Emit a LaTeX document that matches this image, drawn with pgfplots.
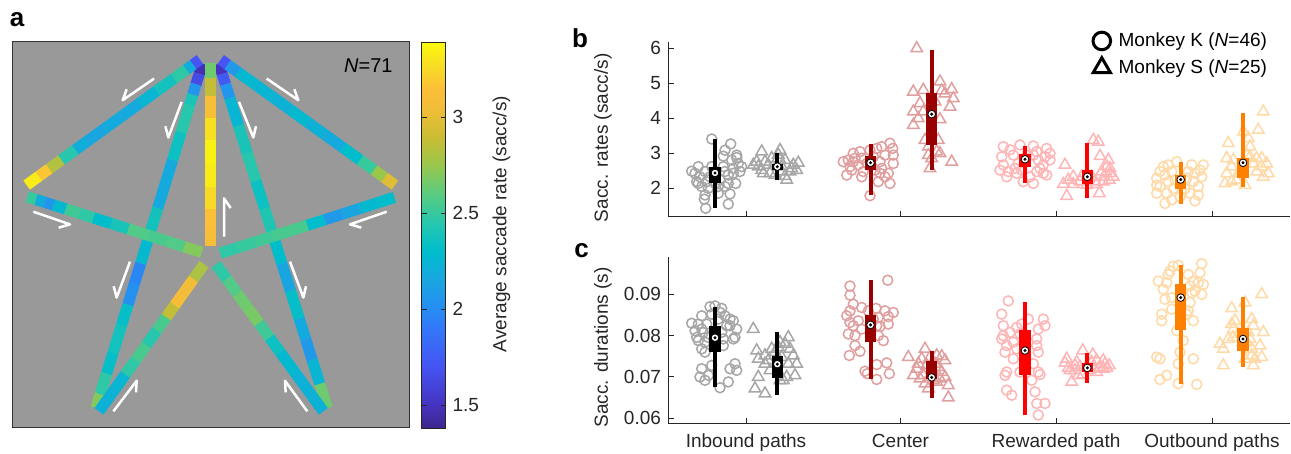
\documentclass[border=0pt]{standalone}
\usepackage{pgfplots}
\pgfplotsset{compat=1.18}
\usepackage{fontspec}
\setmainfont{Liberation Sans}

\definecolor{axgray}{rgb}{0.15,0.15,0.15}
\definecolor{bggray}{rgb}{0.6,0.6,0.6}
\definecolor{inpt}{rgb}{0.65,0.65,0.65}
\definecolor{cebox}{rgb}{0.6,0,0}
\definecolor{cept}{rgb}{0.88,0.62,0.62}
\definecolor{rebox}{rgb}{1,0,0}
\definecolor{rept}{rgb}{1,0.71,0.71}
\definecolor{oubox}{rgb}{1,0.5,0}
\definecolor{oupt}{rgb}{1,0.85,0.65}

\newcommand{\fs}{\fontsize{9.5}{11.4}\selectfont}

\pgfplotsset{
  every axis/.append style={
    /pgf/number format/assume math mode=true,
    tick label style={font=\fs, text=axgray},
    label style={font=\fs, text=axgray},
    clip marker paths=true,
  },
  kpt/.style={only marks, mark=o, mark size=2.5pt, line width=0.75pt, forget plot},
  spt/.style={only marks, mark=triangle, mark size=3.3pt, line width=0.75pt, forget plot},
  strip/.style={mesh, line width=5.6pt, point meta=explicit, forget plot},
  harp/.style={white, line width=1.25pt, line join=round, forget plot},
}

% x, whisker low, whisker high, box low, box high, median, colour
\newcommand{\grp}[7]{%
  \addplot[#7, line width=2pt, forget plot] coordinates {(#1,#2) (#1,#3)};
  \addplot[#7, line width=5.7pt, forget plot] coordinates {(#1,#4) (#1,#5)};
  \addplot[only marks, mark=*, mark size=1.9pt, mark options={fill=white, draw=black, line width=0.4pt}, forget plot] coordinates {(#1,#6)};
  \addplot[only marks, mark=*, mark size=0.55pt, black, forget plot] coordinates {(#1,#6)};
}

\begin{document}
\begin{tikzpicture}
\path[use as bounding box] (0,0) rectangle (645.5pt,227pt);

% ---------------- panel a ----------------
\begin{axis}[
  at={(6pt,13pt)}, anchor=south west, scale only axis,
  width=198.5pt, height=193pt,
  xmin=36, xmax=1227, ymin=125, ymax=1285, y dir=reverse,
  xtick=\empty, ytick=\empty,
  axis background/.style={fill=bggray},
  axis line style={draw=black!80, line width=0.5pt},
  colormap={parula}{rgb(138)=(0.24,0.15,0.55) rgb(150)=(0.27,0.2,0.75) rgb(170)=(0.27,0.33,0.95)
    rgb(190)=(0.2,0.47,0.98) rgb(200)=(0.15,0.55,0.95) rgb(215)=(0.1,0.65,0.88)
    rgb(230)=(0.0,0.74,0.8) rgb(245)=(0.15,0.78,0.68) rgb(260)=(0.35,0.8,0.5)
    rgb(275)=(0.6,0.78,0.3) rgb(290)=(0.8,0.74,0.2) rgb(305)=(0.95,0.74,0.22)
    rgb(315)=(0.99,0.75,0.22) rgb(325)=(0.97,0.85,0.15) rgb(339)=(0.98,0.98,0.05)},
  point meta min=1.38, point meta max=3.39,
  colorbar,
  colorbar shift/.style={xshift=6pt},
  colorbar style={
    width=12pt,
    ytick={1.5,2,2.5,3},
    yticklabel pos=right,
    tick align=inside, major tick length=2.5pt,
    tick style={draw=axgray},
    axis line style={draw=axgray},
    ylabel={Average saccade rate (sacc/s)},
    ylabel style={xshift=5.5pt},
  },
]
% long diagonals
\addplot[strip] coordinates {(607,190) [1.45] (597.4,221) [1.5] (587.9,252.1) [1.8] (578.3,283.2) [2.3]
  (568.7,314.2) [2.5] (543.2,397) [2.4] (517.7,479.8) [2.3] (492.2,562.6) [2.05] (473,624.7) [2.3]
  (447.5,707.5) [2.45] (422,790.3) [2.1] (402.8,852.4) [1.85] (383.7,914.5) [2.2] (364.6,976.6) [2.45]
  (339,1059.4) [2.3] (319.9,1121.5) [2.35] (300.8,1183.6) [2.6] (288,1225) [2.8]};
\addplot[strip] coordinates {(657,190) [1.45] (666.8,221) [1.55] (676.5,252.1) [1.9] (689.5,293.5) [2.2]
  (715.5,376.3) [2.3] (741.5,459.1) [2.5] (767.5,541.9) [2.4] (793.5,624.7) [2.3] (819.5,707.5) [2.55]
  (845.5,790.3) [2.05] (871.5,873.1) [2.25] (897.5,955.9) [2.4] (917,1018) [1.95] (936.5,1080.1) [2.2]
  (959.3,1152.6) [2.3] (982,1225) [3.0]};
% top edges
\addplot[strip] coordinates {(600,178) [1.5] (579.2,193.1) [1.9] (558.4,208.2) [2.5] (522,234.6) [2.45]
  (470,272.3) [2.3] (418,310) [2.2] (366,347.7) [2.15] (314,385.4) [2.2] (262,423.1) [2.1]
  (225.6,449.4) [2.3] (184,479.6) [2.6] (147.6,506) [3.05] (116.4,528.6) [3.3] (80,555) [3.35]};
\addplot[strip] coordinates {(662,178) [1.5] (682.9,193.1) [1.9] (714.3,215.7) [2.25] (766.6,253.4) [2.3]
  (818.9,291.1) [2.2] (871.2,328.8) [2.25] (923.5,366.5) [2.3] (975.8,404.2) [2.15] (1028.1,441.9) [2.2]
  (1080.4,479.6) [2.4] (1122.2,509.8) [2.6] (1153.6,532.4) [2.9] (1185,555) [3.05]};
% centre
\addplot[strip] coordinates {(632,188) [2.55] (632,232) [2.75] (632,287) [3.0] (632,353) [3.2]
  (632,419) [3.35] (632,490.5) [3.35] (632,562) [3.3] (632,628) [3.2] (632,683) [3.1] (632,738) [3.1]};
% lower side paths
\addplot[strip] coordinates {(82,590) [2.6] (108.2,598.4) [2.4] (134.3,606.7) [2.0] (160.5,615.1) [2.1]
  (197.1,626.7) [2.45] (238.9,640.1) [2.6] (280.7,653.5) [2.35] (333,670.2) [2.25] (385.3,686.9) [2.55]
  (448.1,706.9) [2.6] (500.4,723.6) [2.5] (552.7,740.3) [2.65] (605,757) [2.75]};
\addplot[strip] coordinates {(1183,592) [2.3] (1130.7,608.8) [2.3] (1078.4,625.6) [2.25] (1026.1,642.4) [2.05]
  (973.8,659.2) [2.1] (921.5,676) [2.5] (869.2,692.8) [2.6] (816.9,709.6) [2.5] (764.6,726.4) [2.55]
  (712.3,743.2) [2.45] (660,760) [2.5]};
\addplot[strip] coordinates {(612,793) [2.6] (580.5,837.2) [3.0] (549,881.4) [3.1] (523.8,916.8) [3.05]
  (498.6,952.1) [2.7] (470.3,991.9) [2.4] (438.8,1036.1) [2.5] (407.3,1080.3) [2.6] (375.8,1124.5) [2.35]
  (344.3,1168.7) [2.15] (297,1235) [2.3]};
\addplot[strip] coordinates {(648,793) [2.4] (680.2,837.2) [2.55] (712.4,881.4) [2.6] (744.6,925.6) [2.7]
  (776.8,969.8) [2.65] (809,1014) [2.4] (841.2,1058.2) [2.3] (889.5,1124.5) [2.25] (937.8,1190.8) [2.2]
  (970,1235) [2.25]};
% direction arrows
\addplot[harp] coordinates {(380,267) (368,300) (462,235)};
\addplot[harp] coordinates {(883,267) (895,300) (800,235)};
\addplot[harp] coordinates {(496,378) (505,412) (545,305)};
\addplot[harp] coordinates {(768,378) (760,412) (717,305)};
\addplot[harp] coordinates {(692,624) (672,595) (672,710)};
\addplot[harp] coordinates {(176,683) (210,673) (100,635)};
\addplot[harp] coordinates {(1084,683) (1050,673) (1160,635)};
\addplot[harp] coordinates {(341,859) (350,893) (390,785)};
\addplot[harp] coordinates {(918,859) (910,893) (870,785)};
\addplot[harp] coordinates {(408,1178) (410,1143) (340,1235)};
\addplot[harp] coordinates {(857,1178) (855,1143) (922,1235)};
\node[font=\fontsize{10}{12}\selectfont, text=black] at (axis cs:1105,195) {\textit{N}=71};
\end{axis}

% ---------------- panel b ----------------
\begin{axis}[
  at={(334pt,118.65pt)}, anchor=south west, scale only axis,
  width=311pt, height=87.5pt,
  xmin=668, xmax=1290, ymin=1.19, ymax=6.19,
  clip=false,
  axis lines=left, axis line style={-, draw=axgray, line width=0.5pt},
  xtick={746,900.5,1056,1212}, xticklabels={},
  ytick={2,3,4,5,6},
  tick align=inside, major tick length=3pt, tick style={draw=axgray, line width=0.5pt},
  ylabel={Sacc. rates (sacc/s)},
  ylabel style={at={(axis description cs:-0.1045,0.45)}, anchor=center},
  legend style={draw=none, fill=none, at={(0.673,1.1)}, anchor=north west,
    font=\fs, row sep=1pt, nodes={inner xsep=4pt}},
  legend cell align=left,
]
\addlegendimage{only marks, mark=o, mark size=4.4pt, line width=1.5pt, black}
\addlegendentry{Monkey K (\textit{N}=46)}
\addlegendimage{only marks, mark=triangle, mark size=5pt, line width=1.5pt, black}
\addlegendentry{Monkey S (\textit{N}=25)}

\addplot[kpt, color=inpt] coordinates {(711.7,3.41)(730.7,3.27)(725,3.09)(723.3,2.92)(736.7,2.88)(738.3,2.71)
  (733.3,2.57)(691.7,2.49)(698.3,2.62)(705,2.48)(700,2.33)(706.7,2.19)(698.3,2.14)(720,2.24)(728.3,2.38)
  (733.3,2.43)(728.3,2.14)(735.7,2.14)(725,2.05)(708.3,2.00)(718.3,1.86)(730,1.84)(705,1.81)(704.3,1.69)
  (728.3,1.55)(705.7,1.43)(695,2.43)(711.7,2.62)(741.7,2.62)(725,2.48)(731.7,2.81)(718.3,2.05)(701.7,2.05)
  (715,2.14)(736.7,2.95)(710,2.33)(723.3,2.62)(740,2.48)(696.7,2.19)};
\addplot[spt, color=inpt] coordinates {(761.7,3.05)(780,3.09)(753.3,2.67)(765,2.76)(771.7,2.86)(785,2.81)
  (798.3,2.73)(758.3,2.62)(781.7,2.62)(791.7,2.57)(763.3,2.43)(775,2.38)(785,2.35)(786.7,2.24)(778.3,2.96)
  (768.3,2.67)(790,2.48)(761.7,2.52)(775,2.71)(781.7,2.48)(793.3,2.67)(770,2.43)(780,2.81)(756.7,2.76)(796.7,2.52)};
\addplot[kpt, color=cept] coordinates {(848.3,2.81)(853.3,3.00)(860,3.05)(861.7,2.86)(846.7,2.38)(851.7,2.52)
  (861.7,2.33)(870,3.09)(876.7,3.14)(881.7,3.19)(890,3.29)(892.7,3.14)(893.3,2.71)(880,2.76)(888.3,2.43)
  (890,2.14)(878.3,2.19)(870,1.79)(875,2.52)(881.7,2.57)(853.3,2.76)(858.3,2.67)(885,2.33)(843.3,2.76)
  (873.3,2.90)(885,2.95)(866.7,2.71)(855,2.86)(880,2.43)(863.3,2.48)(893.3,2.95)(850,2.62)};
\addplot[spt, color=cept] coordinates {(916.7,6.00)(913.3,4.76)(923.3,4.81)(940,5.05)(951.7,4.83)(953.3,4.57)
  (950,4.33)(920,4.43)(913.3,4.19)(923.3,4.19)(940,3.97)(913.3,3.81)(935,4.48)(941.7,4.79)(938.3,3.38)
  (928.3,3.19)(940,3.00)(928.3,2.95)(951.7,2.76)(930,2.57)(936.7,3.05)(925,3.38)(931.7,2.86)(945,4.71)(918.3,4.00)};
\addplot[kpt, color=rept] coordinates {(1003.3,3.19)(1020,3.24)(1033.3,3.21)(1046.7,3.14)(1050,3.00)(1003.3,2.67)
  (1008.3,2.48)(1006.7,2.33)(1016.7,2.43)(1018.3,2.71)(1013.3,2.95)(1033.3,2.95)(1038.3,2.81)(1043.3,2.67)
  (1036.7,2.48)(1030,2.33)(1033.3,2.14)(1043.3,2.43)(1050,2.81)(1026.7,2.95)(1001.7,2.90)(1023.3,2.19)
  (1010,3.10)(1045,2.90)(1040,2.57)(1021.7,2.52)(1000,2.52)(1036.7,3.05)(1015,2.57)(1046.7,2.38)};
\addplot[spt, color=rept] coordinates {(1065,2.67)(1093.3,3.38)(1098.3,3.33)(1100,2.92)(1108.3,2.81)(1106.7,2.62)
  (1110,2.43)(1068.3,2.24)(1073.3,2.12)(1080,2.19)(1066.7,1.78)(1099.3,1.86)(1103.3,2.19)(1104,2.33)
  (1091.7,2.33)(1096.7,2.12)(1109.3,2.24)(1113.3,2.33)(1073.3,2.33)(1063.3,2.12)(1095,2.19)(1110,2.57)
  (1081.7,2.33)(1101.7,2.48)(1086.7,2.10)};
\addplot[kpt, color=oupt] coordinates {(1168.3,2.67)(1176.7,2.76)(1191.7,2.67)(1203.3,2.67)(1160,2.48)(1156.7,2.29)
  (1165,2.38)(1168.3,2.19)(1160,2.05)(1156.7,1.86)(1166.7,1.86)(1165,1.57)(1171.7,1.67)(1195,1.64)(1190,1.86)
  (1198.3,2.05)(1201.7,2.33)(1195,2.43)(1188.3,2.48)(1193.3,2.19)(1185,1.99)(1173.3,1.99)(1156.7,2.09)
  (1180,1.76)(1200,2.52)(1171.7,2.48)(1163.3,2.62)(1186.7,2.29)(1198.3,1.81)(1175,2.24)};
\addplot[spt, color=oupt] coordinates {(1263.3,4.19)(1258.3,3.67)(1243.3,3.62)(1228.3,3.29)(1250,3.19)(1248.3,3.43)
  (1226.7,2.86)(1233.3,2.81)(1256.7,2.86)(1266.7,2.71)(1261.7,2.86)(1226.7,2.43)(1231.7,2.19)(1225,2.14)
  (1245,2.09)(1263.3,2.33)(1253.3,2.71)(1261.7,2.62)(1236.7,2.24)(1246.7,2.95)(1231.7,2.62)(1256.7,2.48)
  (1268.3,2.43)(1238.3,2.43)(1250,2.90)};
\grp{715}{1.45}{3.40}{2.16}{2.61}{2.44}{black}
\grp{777.3}{2.23}{3.00}{2.52}{2.70}{2.62}{black}
\grp{870.5}{1.81}{3.27}{2.52}{2.92}{2.73}{cebox}
\grp{931.7}{2.52}{5.95}{3.24}{4.71}{4.12}{cebox}
\grp{1025}{2.16}{3.21}{2.62}{2.98}{2.83}{rebox}
\grp{1087.3}{1.73}{3.30}{2.11}{2.52}{2.33}{rebox}
\grp{1180.7}{1.55}{2.76}{1.98}{2.38}{2.25}{oubox}
\grp{1243}{2.05}{4.14}{2.29}{2.87}{2.73}{oubox}
\end{axis}

% ---------------- panel c ----------------
\begin{axis}[
  at={(334pt,15.15pt)}, anchor=south west, scale only axis,
  width=311pt, height=83.5pt,
  xmin=668, xmax=1290, ymin=0.0587, ymax=0.0991,
  clip=false,
  axis lines=left, axis line style={-, draw=axgray, line width=0.5pt},
  xtick={746,900.5,1056,1212},
  xticklabels={Inbound paths, Center, Rewarded path, Outbound paths},
  ytick={0.06,0.07,0.08,0.09},
  scaled y ticks=false,
  yticklabel style={/pgf/number format/fixed, /pgf/number format/precision=2, /pgf/number format/fixed zerofill},
  xticklabel style={yshift=-1.5pt},
  tick align=inside, major tick length=3pt, tick style={draw=axgray, line width=0.5pt},
  ylabel={Sacc. durations (s)},
  ylabel style={at={(axis description cs:-0.1045,0.457)}, anchor=center},
]
\addplot[kpt, color=inpt] coordinates {(691.7,0.0830)(701.7,0.0848)(710,0.0870)(715,0.0872)(721.7,0.0866)(725,0.0848)
  (730,0.0840)(733.3,0.0836)(736.7,0.0816)(735,0.0796)(726.7,0.0824)(721.7,0.0808)(696.7,0.0796)(698.3,0.0788)
  (703.3,0.0808)(706.7,0.0828)(701.7,0.0768)(705,0.0760)(723.3,0.0776)(711.7,0.0728)(701.7,0.0720)(700,0.0700)
  (705,0.0692)(708.3,0.0704)(730,0.0720)(735,0.0732)(736.7,0.0716)(728.3,0.0688)(720,0.0674)(711.7,0.0852)
  (718.3,0.0840)(698.3,0.0828)(723.3,0.0792)(708.3,0.0796)(733.3,0.0792)(695,0.0812)(705,0.0784)(730,0.0824)
  (701.7,0.0816)(720,0.0856)};
\addplot[spt, color=inpt] coordinates {(753.3,0.0816)(756.7,0.0764)(765,0.0752)(771.7,0.0768)(778.3,0.0772)
  (788.3,0.0796)(785,0.0780)(793.3,0.0752)(796.7,0.0732)(765,0.0732)(758.3,0.0700)(755,0.0672)(765,0.0660)
  (780,0.0692)(786.7,0.0700)(795,0.0704)(781.7,0.0748)(788.3,0.0732)(770,0.0716)(758.3,0.0744)(790,0.0768)
  (783.3,0.0692)(775,0.0760)(780,0.0784)(768.3,0.0740)};
\addplot[kpt, color=cept] coordinates {(850,0.0920)(850,0.0898)(853.3,0.0876)(846.7,0.0848)(850,0.0832)(848.3,0.0804)
  (855,0.0800)(849.3,0.0752)(855,0.0776)(860,0.0762)(861.7,0.0868)(868.3,0.0860)(876,0.0866)(878.3,0.0844)
  (885,0.0860)(893.3,0.0856)(888.3,0.0846)(888.3,0.0828)(883.3,0.0788)(880,0.0822)(886.7,0.0734)(889.3,0.0708)
  (876.7,0.0694)(865,0.0714)(867.3,0.0708)(876.7,0.0730)(887.7,0.0934)(861.7,0.0816)(853.3,0.0824)(878.3,0.0800)
  (858.3,0.0836)(873.3,0.0840)(876.7,0.0824)(850,0.0860)};
\addplot[spt, color=cept] coordinates {(908.3,0.0748)(925,0.0768)(936.7,0.0752)(941.7,0.0750)(921.7,0.0744)
  (913.3,0.0704)(920,0.0696)(925,0.0684)(928.3,0.0672)(936.7,0.0688)(945,0.0700)(948.3,0.0680)(948.3,0.0650)
  (938.3,0.0724)(916.7,0.0720)(931.7,0.0708)(941.7,0.0712)(926.7,0.0728)(933.3,0.0692)(923.3,0.0704)
  (945,0.0740)(930,0.0748)(935,0.0732)(918.3,0.0732)(940,0.0696)};
\addplot[kpt, color=rept] coordinates {(1008.3,0.0884)(1001.7,0.0852)(1003.3,0.0824)(1003.3,0.0800)(1001.7,0.0792)
  (1005,0.0760)(1006.7,0.0712)(1005,0.0704)(1006.7,0.0668)(1011.7,0.0656)(1010,0.0808)(1016.7,0.0820)
  (1013.3,0.0784)(1021.7,0.0828)(1028.3,0.0840)(1038.3,0.0816)(1043.3,0.0840)(1045,0.0824)(1036.7,0.0792)
  (1038.3,0.0760)(1038.3,0.0712)(1040,0.0706)(1035,0.0664)(1045,0.0636)(1036.7,0.0636)(1038.3,0.0608)
  (1016.7,0.0768)(1020,0.0712)(1031.7,0.0692)(1033.3,0.0732)(1006.7,0.0776)(1013.3,0.0744)(1036.7,0.0776)
  (1020,0.0804)};
\addplot[spt, color=rept] coordinates {(1066.7,0.0744)(1082.7,0.0764)(1092.7,0.0754)(1103.3,0.0740)(1106.7,0.0722)
  (1068.3,0.0722)(1075,0.0716)(1071.7,0.0688)(1086.7,0.0728)(1096.7,0.0712)(1100,0.0724)(1109.3,0.0728)
  (1080,0.0724)(1082.7,0.0706)(1093.3,0.0722)(1065,0.0734)(1076.7,0.0736)(1091.7,0.0736)(1103.3,0.0720)
  (1078.3,0.0704)(1096.7,0.0740)(1075,0.0728)(1105,0.0732)(1070,0.0716)(1090,0.0716)};
\addplot[kpt, color=oupt] coordinates {(1158.3,0.0932)(1168.3,0.0948)(1173.3,0.0968)(1178.3,0.0970)(1170,0.0956)
  (1188.3,0.0948)(1201.7,0.0974)(1200,0.0952)(1203.3,0.0924)(1193.3,0.0932)(1190,0.0920)(1201.7,0.0900)
  (1195,0.0908)(1163.3,0.0912)(1165,0.0888)(1171.7,0.0892)(1190,0.0880)(1171.7,0.0864)(1161.7,0.0852)
  (1161.7,0.0836)(1193.3,0.0836)(1186.7,0.0852)(1191.7,0.0904)(1176.7,0.0812)(1183.3,0.0788)(1180,0.0760)
  (1156.7,0.0748)(1160,0.0744)(1178.3,0.0732)(1193.3,0.0744)(1166.7,0.0704)(1160,0.0694)(1178.3,0.0684)
  (1196.7,0.0682)(1188.3,0.0860)(1198.3,0.0928)(1166.7,0.0928)};
\addplot[spt, color=oupt] coordinates {(1261.7,0.0900)(1231.7,0.0866)(1245,0.0880)(1251.7,0.0840)(1231.7,0.0828)
  (1233.3,0.0816)(1253.3,0.0824)(1263.3,0.0808)(1220,0.0780)(1223.3,0.0768)(1260,0.0776)(1251.7,0.0768)
  (1261.7,0.0748)(1251.7,0.0752)(1223.3,0.0728)(1253.3,0.0728)(1233.3,0.0796)(1246.7,0.0784)(1238.3,0.0804)
  (1250,0.0792)(1255,0.0744)(1235,0.0836)(1245,0.0744)(1228.3,0.0792)(1248.3,0.0808)};
\grp{715}{0.0676}{0.0870}{0.0760}{0.0824}{0.0795}{black}
\grp{777.3}{0.0656}{0.0810}{0.0698}{0.0751}{0.0731}{black}
\grp{870.5}{0.0696}{0.0934}{0.0784}{0.0850}{0.0826}{cebox}
\grp{931.7}{0.0648}{0.0763}{0.0694}{0.0738}{0.0699}{cebox}
\grp{1025}{0.0608}{0.0882}{0.0706}{0.0814}{0.0764}{rebox}
\grp{1087.3}{0.0686}{0.0758}{0.0712}{0.0735}{0.0722}{rebox}
\grp{1180.7}{0.0682}{0.0972}{0.0814}{0.0926}{0.0892}{oubox}
\grp{1243}{0.0723}{0.0894}{0.0764}{0.0818}{0.0792}{oubox}
\end{axis}

\node[font=\bfseries\fontsize{13}{15}\selectfont] at (8.5pt,217pt) {a};
\node[font=\bfseries\fontsize{13}{15}\selectfont] at (290pt,208pt) {b};
\node[font=\bfseries\fontsize{13}{15}\selectfont] at (290.8pt,101.6pt) {c};
\end{tikzpicture}
\end{document}
